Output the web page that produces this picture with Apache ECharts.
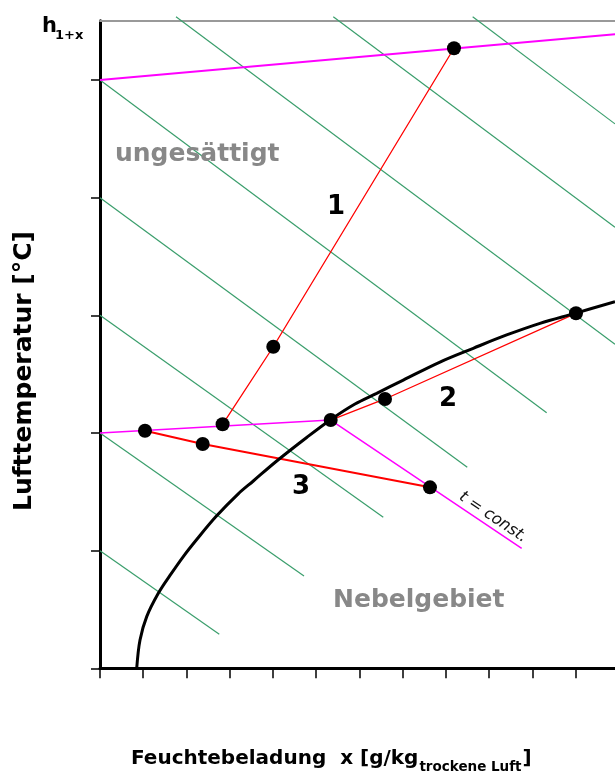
<!DOCTYPE html>
<html><head><meta charset="utf-8">
<script src="https://cdn.jsdelivr.net/npm/echarts@6/dist/echarts.min.js"></script>
<style>html,body{margin:0;padding:0;background:#fff;}#c{width:615px;height:772px;}</style>
</head><body><div id="c"></div>
<script>
// ---- data (x: Feuchtebeladung, y: Lufttemperatur, in tick units) ----
const xTicks = [0,1,2,3,4,5,6,7,8,9,10,11];
const yTicks = [0,1,2,3,4,5];

const saturationCurve = [
  [0.849,0.000],[0.925,0.241],[1.080,0.439],[1.348,0.637],[1.618,0.789],
  [1.926,0.950],[2.236,1.095],[2.682,1.290],[3.191,1.481],[3.545,1.592],
  [4.086,1.762],[4.779,1.962],[5.357,2.119],[5.896,2.246],[6.398,2.337],
  [7.013,2.450],[7.861,2.603],[8.631,2.720],[9.403,2.833],[10.173,2.932],
  [10.983,3.017],[11.908,3.116]
];
const isothermTop = [[0,5.0],[11.908,5.388]];
const isothermLow = [[0,2.0],[5.334,2.110],[9.750,1.020]];

const process1 = [[2.835,2.074],[4.007,2.733],[8.185,5.270]];
const process2 = [[5.334,2.110],[6.590,2.289],[11.006,3.017]];
const process3 = [[1.040,2.019],[2.375,1.906],[7.630,1.538]];

const isenthalp1 = [[0,1],[2.758,0.289]];
const isenthalp2 = [[0,2],[4.717,0.785]];
const isenthalp3 = [[0,3],[6.550,1.283]];
const isenthalp4 = [[0,4],[8.492,1.708]];
const isenthalp5 = [[0,5],[10.328,2.172]];
const isenthalp6 = [[1.757,5.538],[11.908,2.754]];
const isenthalp7 = [[5.394,5.538],[11.908,3.748]];
const isenthalp8 = [[8.617,5.538],[11.908,4.627]];

// ---- chart ----
const X_MAX = 11.908, Y_MAX = 5.504;
const FF = '"DejaVu Sans", Verdana, sans-serif';
const chart = echarts.init(document.getElementById('c'), null, {renderer:'canvas'});

function tw(str, font){ const c=document.createElement('canvas').getContext('2d'); c.font=font; return c.measureText(str).width; }

const green = [isenthalp1,isenthalp2,isenthalp3,isenthalp4,isenthalp5,isenthalp6,isenthalp7,isenthalp8].map(d => ({
  type:'line', data:d, symbol:'none', clip:false, silent:true, z:1,
  lineStyle:{color:'#3a9e6c', width:1.2}
}));
function ln(d, color, width, z, extra){ return Object.assign({type:'line', data:d, symbol:'none', silent:true, z:z, lineStyle:{color:color, width:width}}, extra||{}); }

const fMain = 'bold 20px ' + FF, fSub = 'bold 13.5px ' + FF;
const xMain = 'Feuchtebeladung  x [g/kg', xSub = 'trockene Luft';
const xStart = 131;
const wMain = tw(xMain, fMain), wSub = tw(xSub, fSub);

function txt(x, y, text, font, fill, align, valign, rot){
  return {type:'text', x:x, y:y, rotation:rot||0, z:100,
    style:{text:text, font:font, fill:fill, align:align||'left', verticalAlign:valign||'middle'}};
}

chart.setOption({
  animation:false,
  backgroundColor:'#fff',
  grid:{left:100, right:0, top:20.7, bottom:103.7, containLabel:false},
  xAxis:[{
    type:'value', min:0, max:X_MAX, interval:1, position:'bottom',
    axisLine:{show:true, onZero:false, lineStyle:{color:'#000', width:3}},
    axisTick:{show:true, length:10, customValues:xTicks, lineStyle:{color:'#000', width:1.5}},
    axisLabel:{show:false}, splitLine:{show:false}
  },{
    type:'value', min:0, max:X_MAX, position:'top',
    axisLine:{show:true, onZero:false, lineStyle:{color:'#999', width:2}},
    axisTick:{show:false}, axisLabel:{show:false}, splitLine:{show:false}
  }],
  yAxis:{
    type:'value', min:0, max:Y_MAX, interval:1,
    axisLine:{show:true, onZero:false, lineStyle:{color:'#000', width:3}},
    axisTick:{show:true, length:9, customValues:yTicks, lineStyle:{color:'#000', width:1.5}},
    axisLabel:{show:false}, splitLine:{show:false}
  },
  series:[].concat(green, [
    ln(isothermTop, '#ff00ff', 2, 2),
    ln(isothermLow, '#ff00ff', 1.5, 2),
    ln(process1, '#ff0000', 1.3, 3),
    ln(process2, '#ff0000', 1.3, 3),
    ln(process3, '#ff0000', 2, 3),
    ln(saturationCurve, '#000', 3, 4, {smooth:0.35}),
    {type:'scatter', data:[].concat(process1, process2, process3), symbol:'circle', symbolSize:14,
     itemStyle:{color:'#000', opacity:1}, z:5, silent:true}
  ]),
  graphic:[
    txt(42, 26.7, 'h', 'bold 21px ' + FF, '#000'),
    txt(55, 36, '1+x', 'bold 13px ' + FF, '#000'),
    txt(115, 154.5, 'ungesättigt', 'bold 25px ' + FF, '#888'),
    txt(333, 600.5, 'Nebelgebiet', 'bold 25px ' + FF, '#888'),
    txt(336, 207, '1', 'bold 26px ' + FF, '#000', 'center'),
    txt(448, 399, '2', 'bold 26px ' + FF, '#000', 'center'),
    txt(301, 487, '3', 'bold 26px ' + FF, '#000', 'center'),
    txt(456, 502, 't = const.', 'italic 16px ' + FF, '#111', 'left', 'bottom', -0.592),
    txt(24, 371, 'Lufttemperatur [°C]', 'bold 25px ' + FF, '#000', 'center', 'middle', Math.PI/2),
    txt(xStart, 759, xMain, fMain, '#000'),
    txt(xStart + wMain + 1, 767, xSub, fSub, '#000'),
    txt(xStart + wMain + wSub + 2, 759, ']', fMain, '#000')
  ]
});
</script></body></html>
